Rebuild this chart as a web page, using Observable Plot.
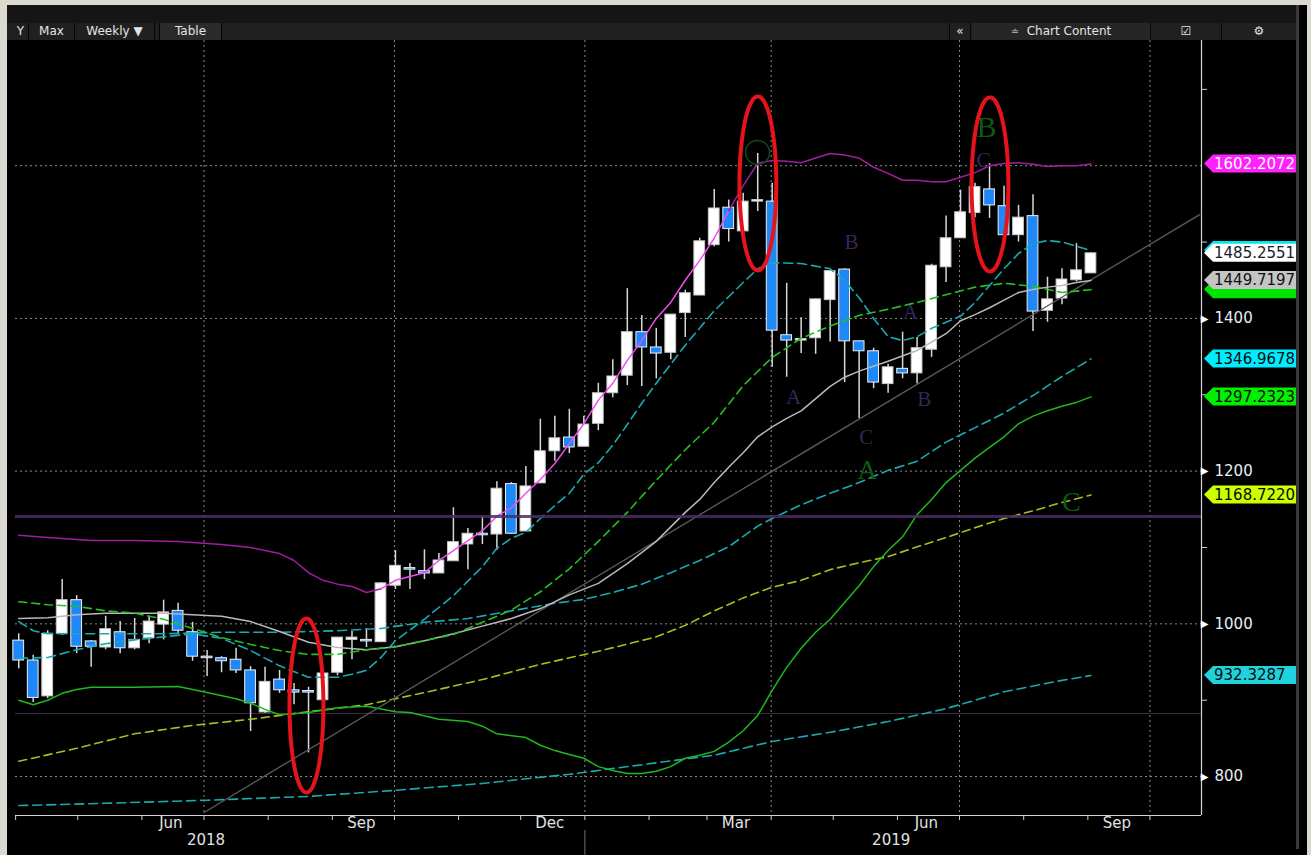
<!DOCTYPE html>
<html><head><meta charset="utf-8">
<script src="https://cdn.jsdelivr.net/npm/d3@7"></script>
<script src="https://cdn.jsdelivr.net/npm/@observablehq/plot@0.6"></script>
<style>
html,body{margin:0;padding:0;width:1311px;height:855px;overflow:hidden;background:#dcd9d1;}
#panel{position:absolute;left:7px;top:5px;width:1300px;height:850px;background:#000;}
#chart{position:absolute;left:0;top:0;}
#topband{position:absolute;left:7px;top:5px;width:1289px;height:18px;background:#151515;}
#toolbar{position:absolute;left:7px;top:23px;width:1289px;height:17px;background:#202020;font:12px "DejaVu Sans",sans-serif;color:#e4e4e4;}
.cell{position:absolute;top:0;height:17px;line-height:17px;text-align:center;border-right:1px solid #070707;box-sizing:border-box;white-space:nowrap;}
#vbar{position:absolute;left:1296px;top:5px;width:3px;height:844px;background:#3a3a3a;}
</style></head>
<body>
<div id="panel"></div>
<div id="chart"></div>
<div id="topband"></div>
<div id="toolbar">
  <div class="cell" style="left:0;width:22px;text-align:right;padding-right:4px;">Y</div>
  <div class="cell" style="left:22px;width:46px;">Max</div>
  <div class="cell" style="left:68px;width:80px;">Weekly &#9660;</div>
  <div class="cell" style="left:152px;width:63px;background:#2b2b2b;border-left:1px solid #070707;">Table</div>
  <div class="cell" style="left:942px;width:22px;border-left:1px solid #070707;">&#171;</div>
  <div class="cell" style="left:965px;width:179px;background:#262626;"><span style="font-size:10px;color:#bbb;">&#8784;</span>&nbsp; Chart Content</div>
  <div class="cell" style="left:1144px;width:71px;">&#9745;</div>
  <div class="cell" style="left:1215px;width:74px;border-right:none;">&#9881;</div>
</div>
<div id="vbar"></div>
<script>
// ---------- DATA ----------
const weeks = ["2018-04-02","2018-04-09","2018-04-16","2018-04-23","2018-04-30","2018-05-07","2018-05-14","2018-05-21","2018-05-28","2018-06-04","2018-06-11","2018-06-18","2018-06-25","2018-07-02","2018-07-09","2018-07-16","2018-07-23","2018-07-30","2018-08-06","2018-08-13","2018-08-20","2018-08-27","2018-09-03","2018-09-10","2018-09-17","2018-09-24","2018-10-01","2018-10-08","2018-10-15","2018-10-22","2018-10-29","2018-11-05","2018-11-12","2018-11-19","2018-11-26","2018-12-03","2018-12-10","2018-12-17","2018-12-24","2018-12-31","2019-01-07","2019-01-14","2019-01-21","2019-01-28","2019-02-04","2019-02-11","2019-02-18","2019-02-25","2019-03-04","2019-03-11","2019-03-18","2019-03-25","2019-04-01","2019-04-08","2019-04-15","2019-04-22","2019-04-29","2019-05-06","2019-05-13","2019-05-20","2019-05-27","2019-06-03","2019-06-10","2019-06-17","2019-06-24","2019-07-01","2019-07-08","2019-07-15","2019-07-22","2019-07-29","2019-08-05","2019-08-12","2019-08-19","2019-08-26","2019-09-02"];
const opens  = [978,952,905,987,1031,977,969,989,968,981,999,1017,989,957,955,953,939,884,927,913,912,900,936,979,979,976,1050,1073,1069,1066,1082,1104,1118,1117,1183,1121,1184,1226,1244,1232,1262,1302,1325,1382,1362,1355,1407,1430,1496,1545,1514,1553,1553,1378,1371,1374,1424,1464,1370,1357,1314,1334,1328,1359,1467,1505,1538,1569,1547,1509,1534,1410,1426,1450,1459];
const highs  = [987,959,991,1058,1037,978,1010,1003,1007,1010,1031,1027,1002,965,957,968,944,943,939,922,917,941,982,990,994,1054,1096,1079,1097,1092,1152,1125,1141,1186,1185,1206,1268,1272,1281,1272,1315,1346,1439,1404,1387,1405,1437,1505,1569,1555,1564,1616,1577,1446,1401,1425,1462,1465,1370,1361,1340,1382,1375,1471,1534,1568,1577,1603,1573,1548,1562,1454,1465,1498,1486];
const lows   = [941,897,902,985,961,943,966,961,966,974,979,987,951,931,936,935,859,883,909,894,831,900,932,953,969,976,1045,1045,1058,1066,1082,1071,1104,1096,1117,1121,1184,1213,1223,1232,1253,1296,1312,1311,1321,1346,1375,1430,1494,1500,1514,1540,1336,1323,1354,1353,1369,1316,1269,1308,1302,1321,1314,1349,1447,1505,1532,1531,1509,1500,1383,1395,1418,1448,1459];
const closes = [952,903,987,1031,970,970,993,968,979,1003,1015,991,957,955,951,939,896,924,913,910,910,935,982,982,977,1053,1076,1071,1066,1083,1107,1118,1116,1177,1118,1180,1226,1243,1231,1261,1302,1324,1382,1362,1354,1405,1433,1501,1544,1517,1553,1555,1384,1371,1373,1425,1462,1370,1357,1316,1336,1328,1361,1469,1505,1539,1572,1548,1509,1532,1409,1425,1451,1463,1485.2551];

// indicator lines: [week index, value]
const upperBand = [[0,1116],[2,1113],[5,1109],[8,1109],[11,1108],[14,1104],[16,1100],[18,1092],[19,1083],[20,1067],[21,1057],[22,1052],[23,1049],[24,1041],[25,1046],[26,1057],[27,1062],[28,1067],[29,1083],[30,1096],[31,1109],[32,1122],[33,1141],[34,1152],[35,1171],[36,1189],[37,1210],[38,1236],[39,1262],[40,1293],[41,1315],[42,1345],[43,1371],[44,1400],[45,1421],[46,1450],[47,1476],[48,1505],[49,1541],[50,1574],[51,1603],[52,1607],[53,1606],[54,1604],[55,1610],[56,1616],[57,1614],[58,1610],[59,1598],[60,1590],[61,1581],[62,1581],[63,1579],[64,1579],[65,1585],[66,1591],[67,1600],[68,1603],[69,1604],[70,1602],[71,1599],[72,1600],[73,1600],[74,1602.2072]];
const midBand = [[0,1029],[2,1025],[4,1023],[6,1017],[8,1014],[10,1006],[12,994],[14,982],[16,973],[18,965],[20,960],[22,960],[24,966],[26,970],[28,978],[30,986],[32,1002],[34,1018],[36,1042],[38,1072],[40,1108],[42,1146],[44,1188],[46,1228],[48,1264],[50,1312],[52,1349],[54,1374],[56,1390],[58,1404],[60,1412],[62,1421],[64,1431],[66,1441],[68,1446],[70,1442],[72,1434],[74,1437.6656]];
const grayAvg = [[0,1007],[2,1008],[4,1012],[6,1014],[8,1014],[10,1014],[12,1012],[14,1010],[16,1003],[18,990],[20,976],[22,969],[24,966],[26,970],[28,978],[30,987],[32,997],[34,1007],[36,1020],[38,1038],[40,1053],[42,1079],[44,1108],[46,1146],[47,1163],[48,1185],[49,1205],[50,1224],[51,1245],[52,1258],[53,1269],[54,1279],[55,1295],[56,1311],[57,1323],[58,1331],[60,1344],[62,1358],[64,1380],[65,1397],[66,1405],[67,1414],[68,1424],[69,1434],[70,1438],[71,1441],[72,1443],[73,1447],[74,1449.7197]];
const fastCyan = [[0,955],[2,956],[4,966],[6,974],[8,979],[10,983],[12,987],[14,981],[16,965],[18,945],[20,930],[22,930],[23,934],[24,939],[25,956],[26,978],[28,1006],[30,1037],[32,1075],[33,1099],[34,1112],[35,1120],[36,1138],[37,1155],[38,1171],[39,1196],[40,1211],[41,1234],[42,1261],[43,1289],[44,1315],[46,1365],[48,1410],[50,1447],[51,1465],[52,1473],[54,1472],[56,1465],[57,1450],[58,1427],[59,1400],[60,1376],[61,1371],[62,1376],[63,1387],[65,1403],[66,1421],[67,1443],[68,1465],[69,1485],[70,1498],[71,1502],[72,1500],[74,1489]];
const midCyan = [[0,1003],[1,991],[2,987],[6,987],[10,987],[14,989],[18,989],[22,991],[25,994],[28,1002],[31,1007],[34,1017],[37,1027],[39,1032],[41,1041],[43,1052],[45,1067],[47,1083],[49,1101],[51,1128],[52,1138],[54,1156],[56,1171],[58,1185],[60,1201],[62,1213],[64,1238],[66,1257],[68,1276],[70,1299],[72,1324],[74,1346.9678]];
const lowerBand = [[0,900],[1,894],[2,900],[3,909],[4,914],[5,917],[8,917],[11,918],[13,910],[15,902],[16,896],[17,888],[18,881],[20,884],[22,890],[24,892],[26,885],[27,884],[29,875],[31,872],[32,866],[33,856],[35,851],[36,841],[37,834],[38,829],[39,824],[40,813],[41,808],[42,804],[43,804],[44,807],[45,813],[46,824],[47,828],[48,833],[49,845],[50,860],[51,880],[52,913],[53,943],[54,968],[55,989],[56,1006],[57,1028],[58,1050],[59,1075],[60,1096],[61,1114],[62,1143],[63,1163],[64,1185],[65,1201],[66,1217],[67,1231],[68,1245],[69,1262],[70,1272],[71,1279],[72,1285],[73,1290],[74,1297.2323]];
const yellowAvg = [[0,820],[4,837],[8,856],[12,867],[16,875],[20,885],[24,894],[28,910],[32,927],[36,947],[40,964],[44,983],[46,998],[48,1017],[50,1034],[52,1048],[54,1057],[56,1071],[58,1080],[60,1088],[62,1101],[64,1113],[66,1126],[68,1138],[70,1148],[72,1159],[74,1168.722]];
const slowCyan = [[0,762],[6,765],[13,769],[20,774],[26,782],[32,791],[38,803],[44,818],[48,828],[52,846],[56,858],[60,872],[64,889],[68,911],[72,926],[74,932.3287]];
const trendDates = ["2018-07-01","2019-10-25"];
const trendValues = [753, 1536];
const levelThick = 1140.6;
const levelThin = 882.6;

const gridValues = [800, 1000, 1200, 1400, 1600];
const yLabelTicks = [800, 1000, 1200, 1400];
const yMinorTicks = [900, 1100, 1300, 1500, 1700];
const quarterStarts = ["2018-07-01","2018-10-01","2019-01-01","2019-04-01","2019-07-01","2019-10-01"];
const monthStarts = ["2018-04-01","2018-05-01","2018-06-01","2018-07-01","2018-08-01","2018-09-01","2018-10-01","2018-11-01","2018-12-01","2019-01-01","2019-02-01","2019-03-01","2019-04-01","2019-05-01","2019-06-01","2019-07-01","2019-08-01","2019-09-01","2019-10-01"];
const monthLabelDates = ["2018-06-15","2018-09-15","2018-12-15","2019-03-15","2019-06-15","2019-09-15"];
const monthLabelNames = ["Jun","Sep","Dec","Mar","Jun","Sep"];
const yearLabelDates = ["2018-07-02","2019-05-29"];
const yearLabelNames = ["2018","2019"];
const yearBreak = "2019-01-01";

const purpleLetters = [
  {date:"2019-05-09T19:00:00Z", v:1499.5, t:"B"},
  {date:"2019-04-11T19:00:00Z", v:1296.5, t:"A"},
  {date:"2019-05-17T00:00:00Z", v:1244, t:"C"},
  {date:"2019-06-07T06:00:00Z", v:1407.8, t:"A"},
  {date:"2019-06-14T00:00:00Z", v:1293.9, t:"B"},
  {date:"2019-07-12T14:00:00Z", v:1606.9, t:"C"}
];
const greenLetters = [
  {date:"2019-05-17T12:00:00Z", v:1200.9, t:"A", size:28},
  {date:"2019-07-14T00:00:00Z", v:1650.1, t:"B", size:30},
  {date:"2019-08-24T00:00:00Z", v:1159, t:"C", size:28}
];
const greenCircle = [{date:"2019-03-25T10:00:00Z", v:1617.4}];
const ellipses = [
  {center:"2018-08-19T12:00:00Z", value:893, rxDays:8.2, ryValue:114},
  {center:"2019-03-25T14:00:00Z", value:1576.8, rxDays:8.9, ryValue:114},
  {center:"2019-07-15T17:00:00Z", value:1575.5, rxDays:8.9, ryValue:114}
];
const lastLabels = [
  {v:1602.2072, text:"1602.2072", bg:"#ff22ff", fg:"#ffffff"},
  {v:1489.0, text:"", bg:"#00e8f0", fg:"#000000"},
  {v:1485.2551, text:"1485.2551", bg:"#ffffff", fg:"#1a1a2a"},
  {v:1437.6656, text:"", bg:"#00e600", fg:"#0a0a0a"},
  {v:1449.7197, text:"1449.7197", bg:"#c4c4c4", fg:"#111111"},
  {v:1346.9678, text:"1346.9678", bg:"#00ecff", fg:"#0a0a0a"},
  {v:1297.2323, text:"1297.2323", bg:"#00f000", fg:"#0a0a0a"},
  {v:1168.7220, text:"1168.7220", bg:"#ccff00", fg:"#0a0a0a"},
  {v:932.3287, text:"932.3287", bg:"#1fd3dc", fg:"#0a0a0a"}
];

// ---------- BUILD ----------
const DAY = 864e5;
const toDate = s => new Date(s + "T12:00:00Z");
const utc = s => new Date(s + "T00:00:00Z");
const pts = arr => arr.map(([i, v]) => ({date: toDate(weeks[i]), v}));
const candles = weeks.map((w, i) => ({date: toDate(w), o: opens[i], h: highs[i], l: lows[i], c: closes[i], up: closes[i] >= opens[i]}));
const ups = candles.filter(d => d.up), downs = candles.filter(d => !d.up);
const xDomain = [new Date("2018-03-31T22:34:00Z"), new Date("2019-10-25T21:36:00Z")];
const yDomain = [749, 1764];

const ellPts = ellipses.flatMap((e, k) => d3.range(0, 73).map(j => {
  const t = j / 72 * 2 * Math.PI;
  return {k, date: new Date(+new Date(e.center) + e.rxDays * DAY * Math.cos(t)), v: e.value + e.ryValue * Math.sin(t)};
}));
const ub = pts(upperBand);
const ubA = ub.filter(d => d.date <= toDate(weeks[25]));
const ubB = ub.filter(d => d.date >= toDate(weeks[25]) && d.date <= toDate(weeks[49]));
const ubC = ub.filter(d => d.date >= toDate(weeks[49]));
const body = {x1: d => new Date(+d.date - 2.6 * DAY), x2: d => new Date(+d.date + 2.6 * DAY), y1: d => Math.min(d.o, d.c), y2: d => Math.max(d.o, d.c)};
const gridStyle = {stroke: "#8c8c8c", strokeDasharray: "2,3", strokeWidth: 1};

const plot = Plot.plot({
  width: 1311, height: 855,
  marginLeft: 15, marginRight: 110, marginTop: 40, marginBottom: 40,
  style: {background: "transparent", overflow: "visible", fontFamily: "'DejaVu Sans', sans-serif"},
  x: {type: "utc", domain: xDomain},
  y: {type: "linear", domain: yDomain},
  marks: [
    Plot.ruleY(gridValues, gridStyle),
    Plot.ruleX(quarterStarts.map(utc), gridStyle),
    Plot.ruleY([levelThin], {stroke: "#3d2c45", strokeWidth: 1}),
    Plot.ruleX(candles, {x: "date", y1: "l", y2: "h", stroke: "#d8d8d8", strokeWidth: 1.5}),
    Plot.rect(ups, {...body, fill: "#ffffff", stroke: "#c8c8c8", strokeWidth: 1}),
    Plot.rect(downs, {...body, fill: "#1f88f8", stroke: "#f0f0f0", strokeWidth: 1}),
    Plot.line(pts(slowCyan), {x: "date", y: "v", stroke: "#1aa9b1", strokeWidth: 1.6, strokeDasharray: "9,5"}),
    Plot.line(pts(yellowAvg), {x: "date", y: "v", stroke: "#aebd1e", strokeWidth: 1.6, strokeDasharray: "8,5"}),
    Plot.line(pts(lowerBand), {x: "date", y: "v", stroke: "#1fb81f", strokeWidth: 1.5}),
    Plot.line(trendDates.map((d, i) => ({date: utc(d), v: trendValues[i]})), {x: "date", y: "v", stroke: "#5c5c5c", strokeWidth: 1.3, clip: true}),
    Plot.line(pts(midCyan), {x: "date", y: "v", stroke: "#1aa9b1", strokeWidth: 1.6, strokeDasharray: "9,5"}),
    Plot.line(pts(grayAvg), {x: "date", y: "v", stroke: "#b9b9b9", strokeWidth: 1.5}),
    Plot.line(pts(midBand), {x: "date", y: "v", stroke: "#25c025", strokeWidth: 1.6, strokeDasharray: "8,5"}),
    Plot.line(pts(fastCyan), {x: "date", y: "v", stroke: "#1aa9b1", strokeWidth: 1.6, strokeDasharray: "9,5"}),
    Plot.line(ubA, {x: "date", y: "v", stroke: "#a01ca0", strokeWidth: 1.5}),
    Plot.line(ubB, {x: "date", y: "v", stroke: "#f04cf0", strokeWidth: 1.5}),
    Plot.line(ubC, {x: "date", y: "v", stroke: "#a31ea3", strokeWidth: 1.5}),
    Plot.ruleY([levelThick], {stroke: "#4b2c64", strokeWidth: 3, strokeOpacity: 0.85}),
    Plot.text(purpleLetters, {x: d => new Date(d.date), y: "v", text: "t", fill: "#36255a", fontSize: 21, fontFamily: "'Liberation Serif', 'DejaVu Serif', serif"}),
    Plot.text(greenLetters, {x: d => new Date(d.date), y: "v", text: "t", fill: "#0e5a12", fontSize: "size", fontFamily: "'Liberation Serif', 'DejaVu Serif', serif"}),
    Plot.dot(greenCircle, {x: d => new Date(d.date), y: "v", r: 12, stroke: "#0c4d12", strokeWidth: 1.5, fill: "none"}),
    Plot.line(ellPts, {x: "date", y: "v", z: "k", stroke: "#e5141b", strokeWidth: 4, curve: "catmull-rom"}),
    // frame
    Plot.ruleY([yDomain[0]], {stroke: "#d4d4d4", strokeWidth: 1.2}),
    Plot.ruleX([xDomain[1]], {stroke: "#d4d4d4", strokeWidth: 1.2}),
    // axes
    Plot.axisX({ticks: monthStarts.map(utc), tickSize: 5, tickFormat: () => "", stroke: "#d0d0d0"}),
    Plot.text(monthLabelDates, {x: d => utc(d), text: (d, i) => monthLabelNames[i], frameAnchor: "bottom", dy: 12, fill: "#e2e2e2", fontSize: 15}),
    Plot.text(yearLabelDates, {x: d => utc(d), text: (d, i) => yearLabelNames[i], frameAnchor: "bottom", dy: 29, fill: "#e2e2e2", fontSize: 15}),
    Plot.ruleX([utc(yearBreak)], {stroke: "#6e6e6e", insetTop: 790, insetBottom: -40}),
    Plot.axisY({anchor: "right", ticks: yMinorTicks, tickSize: 5, tickFormat: () => "", stroke: "#d0d0d0"}),
    Plot.axisY({anchor: "right", ticks: yLabelTicks, tickSize: 0, tickPadding: 13, tickFormat: d => String(d), fill: "#e8eef8", fontSize: 15}),
    Plot.text(yLabelTicks, {y: d => d, text: () => "\u25B6", frameAnchor: "right", dx: 7, fill: "#ffffff", fontSize: 10})
  ]
});
document.getElementById("chart").appendChild(plot);

// right-hand last-value tags, placed with the plot's own y scale
const ys = plot.scale("y");
const g = d3.select(plot).append("g").attr("text-anchor", "start");
for (const L of lastLabels) {
  const yy = ys.apply(L.v);
  g.append("path")
    .attr("d", `M1204,${yy} L1213,${yy - 9} L1296,${yy - 9} L1296,${yy + 9} L1213,${yy + 9} Z`)
    .attr("fill", L.bg);
  if (L.text) g.append("text").attr("x", 1214).attr("y", yy).attr("dy", "0.36em")
    .attr("text-anchor", "start")
    .attr("fill", L.fg).style("font", "15px 'DejaVu Sans', sans-serif").text(L.text);
}
</script>
</body></html>
